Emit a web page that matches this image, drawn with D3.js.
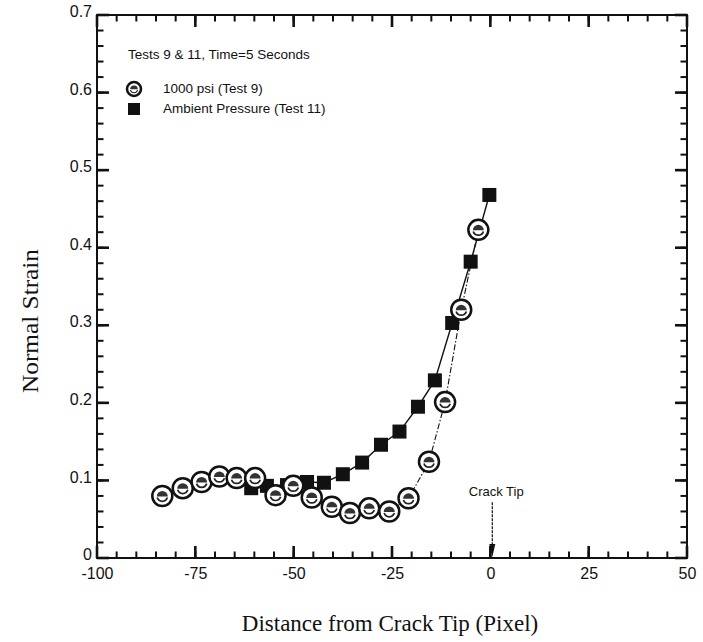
<!DOCTYPE html>
<html>
<head>
<meta charset="utf-8">
<script src="https://cdn.jsdelivr.net/npm/d3@7"></script>
<style>
  body { margin: 0; background: #fff; }
  text { fill: #111; }
</style>
</head>
<body>
<div id="chart"></div>
<script>
// Test 9, 1000 psi (circles)
const test9X = [-83.4, -78.2, -73.4, -68.9, -64.5, -59.8, -54.6, -50.1, -45.4,
                -40.3, -35.7, -30.8, -25.7, -20.8, -15.6, -11.5, -7.4, -3.05];
const test9Y = [0.080, 0.090, 0.098, 0.105, 0.103, 0.103, 0.081, 0.093, 0.078,
                0.066, 0.058, 0.064, 0.060, 0.077, 0.124, 0.201, 0.320, 0.423];
// Test 11, ambient pressure (squares)
const test11X = [-60.8, -56.8, -51.7, -46.6, -42.3, -37.5, -32.6, -27.8, -23.1,
                 -18.4, -14.1, -9.7, -5.0, -0.25];
const test11Y = [0.090, 0.093, 0.094, 0.098, 0.097, 0.108, 0.123, 0.146, 0.163,
                 0.195, 0.229, 0.303, 0.382, 0.468];

const xTicks = [-100, -75, -50, -25, 0, 25, 50];
const yTicks = [0, 0.1, 0.2, 0.3, 0.4, 0.5, 0.6, 0.7];
const xMinor = d3.range(-100, 51, 5);
const yMinor = d3.range(0, 0.701, 0.02);

const legendTitle = "Tests 9 & 11,  Time=5 Seconds";
const legendNames = ["1000 psi (Test 9)", "Ambient Pressure (Test 11)"];

const W = 703, H = 642;
const margin = {top: 15, right: 16, bottom: 84, left: 97};
const width = W - margin.left - margin.right;
const height = H - margin.top - margin.bottom;

const svgRoot = d3.select("#chart").append("svg")
    .attr("width", W).attr("height", H);
const svg = svgRoot.append("g")
    .attr("transform", "translate(" + margin.left + "," + margin.top + ")");

const x = d3.scaleLinear().domain([-100, 50]).range([0, width]);
const y = d3.scaleLinear().domain([0, 0.7]).range([height, 0]);

const sans = "'Liberation Sans', Arial, sans-serif";
const serif = "'Liberation Serif', 'Times New Roman', serif";

// frame
svg.append("rect").attr("width", width).attr("height", height)
    .attr("fill", "none").attr("stroke", "#111").attr("stroke-width", 2);

// inward tick marks on all four sides
function xTickRects(vals, len, w) {
  const g = svg.append("g");
  g.selectAll("rect.b").data(vals).join("rect").attr("class", "b")
      .attr("x", d => x(d) - w / 2).attr("y", height - len)
      .attr("width", w).attr("height", len);
  g.selectAll("rect.t").data(vals).join("rect").attr("class", "t")
      .attr("x", d => x(d) - w / 2).attr("y", 0)
      .attr("width", w).attr("height", len);
  g.selectAll("rect").attr("fill", "#111");
}
function yTickRects(vals, len, w) {
  const g = svg.append("g");
  g.selectAll("rect.l").data(vals).join("rect").attr("class", "l")
      .attr("x", 0).attr("y", d => y(d) - w / 2)
      .attr("width", len).attr("height", w);
  g.selectAll("rect.r").data(vals).join("rect").attr("class", "r")
      .attr("x", width - len).attr("y", d => y(d) - w / 2)
      .attr("width", len).attr("height", w);
  g.selectAll("rect").attr("fill", "#111");
}
xTickRects(xMinor, 6.5, 2);
xTickRects(xTicks, 12, 2.6);
yTickRects(yMinor, 6.5, 2);
yTickRects(yTicks, 12, 2.6);

// tick labels through d3 axes
function styleAxis(g) {
  g.select(".domain").remove();
  g.selectAll(".tick line").remove();
  g.selectAll("text").attr("font-family", sans).attr("font-size", 16).attr("fill", "#111");
}
svg.append("g").attr("transform", "translate(0," + height + ")")
    .call(d3.axisBottom(x).tickValues(xTicks).tickSize(0).tickPadding(10)
          .tickFormat(d => String(d)))
    .call(styleAxis);
svg.append("g")
    .call(d3.axisLeft(y).tickValues(yTicks).tickSize(0).tickPadding(5)
          .tickFormat(d => d === 0 ? "0" : d.toFixed(1)))
    .call(styleAxis)
    .selectAll("text").attr("dy", "0.1em");

// lines
const test11 = test11X.map((v, i) => [v, test11Y[i]]);
const test9 = test9X.map((v, i) => [v, test9Y[i]]);
const line = d3.line().x(d => x(d[0])).y(d => y(d[1]));

svg.append("path").attr("d", line(test11))
    .attr("fill", "none").attr("stroke", "#111").attr("stroke-width", 1.4);
svg.append("path").attr("d", line(test9))
    .attr("fill", "none").attr("stroke", "#111").attr("stroke-width", 1.1)
    .attr("stroke-dasharray", "6,2,1.5,2");

// squares
const sq = 14;
svg.append("g").selectAll("rect").data(test11).join("rect")
    .attr("x", d => x(d[0]) - sq / 2).attr("y", d => y(d[1]) - sq / 2)
    .attr("width", sq).attr("height", sq).attr("fill", "#111");

// circles
function drawCircle(g, r) {
  g.append("circle").attr("r", r).attr("fill", "#fff")
      .attr("stroke", "#111").attr("stroke-width", 2.5);
  g.append("path")
      .attr("d", d3.arc()({innerRadius: 0, outerRadius: r * 0.55,
                           startAngle: -Math.PI / 2, endAngle: Math.PI / 2}))
      .attr("fill", "#333").attr("transform", "translate(0," + (r * 0.05) + ")");
  g.append("path")
      .attr("d", d3.arc()({innerRadius: r * 0.45, outerRadius: r * 0.62,
                           startAngle: Math.PI * 0.6, endAngle: Math.PI * 1.4}))
      .attr("fill", "#222");
}
svg.append("g").selectAll("g").data(test9).join("g")
    .attr("transform", d => "translate(" + x(d[0]) + "," + y(d[1]) + ")")
    .each(function() { drawCircle(d3.select(this), 10); });

// crack tip annotation
svg.append("text").attr("x", x(1.5)).attr("y", y(0.085))
    .attr("text-anchor", "middle").attr("dominant-baseline", "middle")
    .attr("font-family", sans).attr("font-size", 13).text("Crack Tip");
svg.append("line").attr("x1", x(0.5)).attr("x2", x(0.5))
    .attr("y1", y(0.072)).attr("y2", height - 12)
    .attr("stroke", "#111").attr("stroke-width", 1.2).attr("stroke-dasharray", "3,1");
svg.append("path")
    .attr("d", "M" + (x(0.5) - 3) + "," + (height - 14) + "L" + (x(0.5) + 3) + "," +
          (height - 14) + "L" + x(0.5) + "," + (height - 1) + "Z")
    .attr("fill", "#111");

// legend
svg.append("text").attr("x", 31).attr("y", 40)
    .attr("dominant-baseline", "middle")
    .attr("font-family", sans).attr("font-size", 13.5).text(legendTitle);
const lg1 = svg.append("g").attr("transform", "translate(37,74)");
drawCircle(lg1, 7);
svg.append("rect").attr("x", 37 - 6).attr("y", 94 - 6).attr("width", 12).attr("height", 12)
    .attr("fill", "#111");
svg.selectAll(".legtext").data(legendNames).join("text")
    .attr("class", "legtext")
    .attr("x", 66).attr("y", (d, i) => 74 + i * 20)
    .attr("dominant-baseline", "middle")
    .attr("font-family", sans).attr("font-size", 13.5).text(d => d);

// axis titles
svgRoot.append("text").attr("x", margin.left + width / 2 - 2).attr("y", 626)
    .attr("text-anchor", "middle").attr("dominant-baseline", "middle")
    .attr("font-family", serif).attr("font-size", 23)
    .text("Distance from Crack Tip (Pixel)");
svgRoot.append("text")
    .attr("transform", "translate(32," + 321 + ") rotate(-90)")
    .attr("text-anchor", "middle").attr("dominant-baseline", "middle")
    .attr("font-family", serif).attr("font-size", 24)
    .attr("textLength", 144).attr("lengthAdjust", "spacingAndGlyphs")
    .text("Normal Strain");
</script>
</body>
</html>
